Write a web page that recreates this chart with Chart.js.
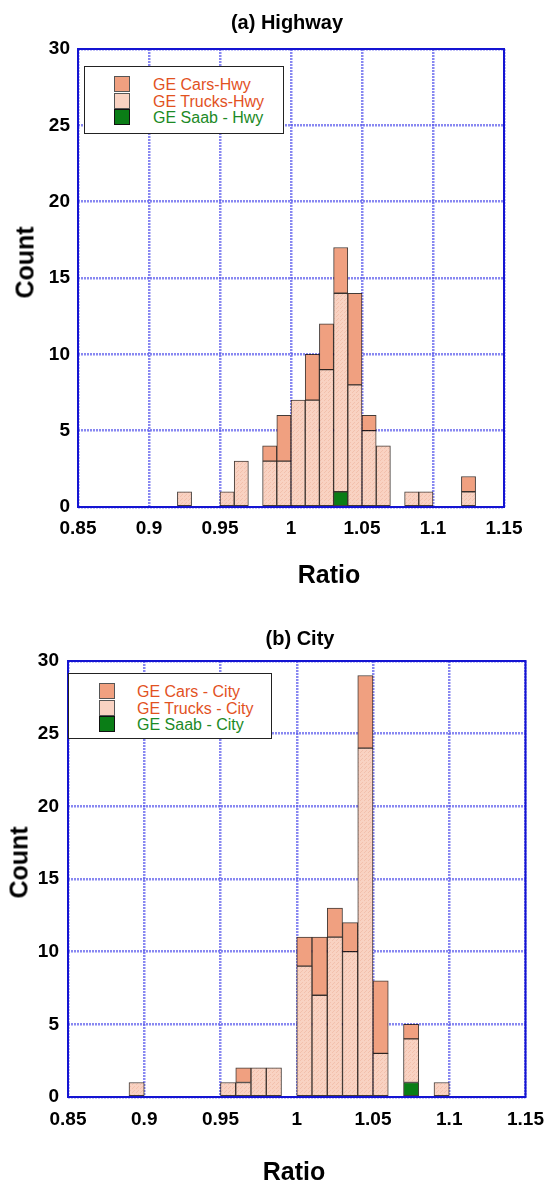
<!DOCTYPE html>
<html>
<head>
<meta charset="utf-8">
<script src="https://cdn.jsdelivr.net/npm/chart.js@4/dist/chart.umd.min.js"></script>
<style>
  html, body { margin: 0; padding: 0; background: #fff; }
  #page { position: relative; width: 555px; height: 1182px; overflow: hidden; font-family: "Liberation Sans", Arial, sans-serif; }
  canvas { position: absolute; left: 0; }
  .txt { position: absolute; white-space: nowrap; font-weight: bold; color: #000; text-align: center; }
  .legend { position: absolute; border: 1.5px solid #222; background: #fff; box-sizing: border-box; }
  .sw { position: absolute; width: 16px; height: 16px; box-sizing: border-box; border: 1px solid #555; }
  .lab { position: absolute; font-size: 16px; line-height: 16px; white-space: nowrap; }
</style>
</head>
<body>
<div id="page">
  <canvas id="hwy" width="555" height="600" style="top:0"></canvas>
  <canvas id="city" width="555" height="582" style="top:600px"></canvas>
</div>
<script>
// Histogram bins (left edge of each 0.01-wide ratio bin) and counts per group
const hwyBins    = [0.92, 0.95, 0.96, 0.98, 0.99, 1.00, 1.01, 1.02, 1.03, 1.04, 1.05, 1.06, 1.08, 1.09, 1.12];
const hwyTrucks  = [1,    1,    3,    3,    3,    7,    7,    9,    13,   8,    5,    4,    1,    1,    1];
const hwyCars    = [0,    0,    0,    1,    3,    0,    3,    3,    3,    6,    1,    0,    0,    0,    1];
const hwySaab    = [0,    0,    0,    0,    0,    0,    0,    0,    1,    0,    0,    0,    0,    0,    0];

const cityBins   = [0.89, 0.95, 0.96, 0.97, 0.98, 1.00, 1.01, 1.02, 1.03, 1.04, 1.05, 1.07, 1.09];
const cityTrucks = [1,    1,    1,    2,    2,    9,    7,    11,   10,   24,   3,    3,    1];
const cityCars   = [0,    0,    1,    0,    0,    2,    4,    2,    2,    5,    5,    1,    0];
const citySaab   = [0,    0,    0,    0,    0,    0,    0,    0,    0,    0,    0,    1,    0];

const binWidth = 0.01;
const xTickValues = [0.85, 0.9, 0.95, 1.0, 1.05, 1.1, 1.15];
const xTickLabels = ['0.85', '0.9', '0.95', '1', '1.05', '1.1', '1.15'];
const yTickStep = 5;

const hwyLegend  = ['GE Cars-Hwy', 'GE Trucks-Hwy', 'GE Saab - Hwy'];
const cityLegend = ['GE Cars - City', 'GE Trucks - City', 'GE Saab - City'];

const CARS = '#f0a080';
const TRUCKS = '#f9d2c2';
const SAAB = '#0a7d16';
const TEXT_RED = '#e2521f';
const TEXT_GREEN = '#1c8a26';
const GRID = 'rgba(85,85,235,0.7)';
const FRAME = '#1414d2';
const TICK_FONT = { family: '"Liberation Sans", Arial, sans-serif', size: 19, weight: 'bold' };

// light stippled fill for the trucks series
function stipple() {
  const c = document.createElement('canvas');
  c.width = 4; c.height = 4;
  const g = c.getContext('2d');
  g.fillStyle = TRUCKS; g.fillRect(0, 0, 4, 4);
  g.fillStyle = '#f2c0ac';
  g.fillRect(0, 0, 1, 1); g.fillRect(2, 2, 1, 1); g.fillRect(1, 3, 1, 1);
  return g.createPattern(c, 'repeat');
}
const truckFill = stipple();

function points(bins, counts) {
  return bins.map((b, i) => ({ x: b + binWidth / 2, y: counts[i] === 0 ? null : counts[i] }));
}

const framePlugin = {
  id: 'frame',
  afterDatasetsDraw(chart) {
    const a = chart.chartArea, ctx = chart.ctx;
    ctx.save();
    ctx.strokeStyle = FRAME;
    ctx.lineWidth = 2;
    ctx.strokeRect(a.left, a.top, a.right - a.left, a.bottom - a.top);
    ctx.restore();
  }
};

function makeChart(id, bins, saab, trucks, cars, geo) {
  const barStyle = { borderColor: 'rgba(20,10,5,0.8)', borderWidth: 1, borderSkipped: false,
                     barPercentage: 1, categoryPercentage: 1 };
  return new Chart(document.getElementById(id), {
    type: 'bar',
    data: {
      datasets: [
        Object.assign({ label: 'Saab', data: points(bins, saab), backgroundColor: SAAB }, barStyle),
        Object.assign({ label: 'Trucks', data: points(bins, trucks), backgroundColor: truckFill }, barStyle),
        Object.assign({ label: 'Cars', data: points(bins, cars), backgroundColor: CARS }, barStyle)
      ]
    },
    options: {
      responsive: false,
      animation: false,
      events: [],
      layout: { padding: { left: 0, right: geo.padRight, top: geo.padTop, bottom: 0 } },
      plugins: { legend: { display: false }, title: { display: false }, tooltip: { enabled: false } },
      scales: {
        x: {
          type: 'linear', stacked: true, offset: false,
          min: xTickValues[0], max: xTickValues[xTickValues.length - 1],
          afterBuildTicks: s => { s.ticks = xTickValues.map(v => ({ value: v })); },
          afterFit: s => { s.height = geo.xHeight; },
          grid: { offset: false, color: GRID, lineWidth: 2.5, drawTicks: false },
          border: { display: false, dash: [2, 1] },
          ticks: { autoSkip: false, maxRotation: 0, padding: geo.xPad, color: '#000',
                   font: TICK_FONT, callback: (v, i) => xTickLabels[i] }
        },
        y: {
          stacked: true, min: 0, max: 30,
          afterFit: s => { s.width = geo.yWidth; },
          grid: { color: GRID, lineWidth: 2.5, drawTicks: false },
          border: { display: false, dash: [2, 1] },
          ticks: { stepSize: yTickStep, padding: geo.yPad, color: '#000', font: TICK_FONT }
        }
      }
    },
    plugins: [framePlugin]
  });
}

makeChart('hwy', hwyBins, hwySaab, hwyTrucks, hwyCars,
  { padRight: 51, padTop: 49, xHeight: 93, yWidth: 78, xPad: 10, yPad: 8 });
makeChart('city', cityBins, citySaab, cityTrucks, cityCars,
  { padRight: 23, padTop: 61, xHeight: 85, yWidth: 68, xPad: 11, yPad: 9 });

// text labels and legends
const page = document.getElementById('page');
function addText(str, cx, top, size, rotate) {
  const d = document.createElement('div');
  d.className = 'txt';
  d.textContent = str;
  d.style.fontSize = size + 'px';
  d.style.lineHeight = size + 'px';
  d.style.width = '200px';
  d.style.left = (cx - 100) + 'px';
  d.style.top = top + 'px';
  if (rotate) d.style.transform = 'rotate(-90deg)';
  page.appendChild(d);
}
addText('(a) Highway', 287, 12, 20);
addText('Ratio', 329, 562, 25);
addText('Count', 25, 262 - 12.5, 25, true);
addText('(b) City', 300, 628, 20);
addText('Ratio', 294, 1159, 25);
addText('Count', 19, 862 - 12.5, 25, true);

function addLegend(labels, box, swX, txtX, rowTop) {
  const lg = document.createElement('div');
  lg.className = 'legend';
  lg.style.left = box[0] + 'px'; lg.style.top = box[1] + 'px';
  lg.style.width = box[2] + 'px'; lg.style.height = box[3] + 'px';
  page.appendChild(lg);
  const fills = [CARS, TRUCKS, SAAB];
  const colors = [TEXT_RED, TEXT_RED, TEXT_GREEN];
  labels.forEach((t, i) => {
    const y = rowTop + i * 16.7;
    const sw = document.createElement('div');
    sw.className = 'sw';
    sw.style.left = swX + 'px'; sw.style.top = y + 'px';
    sw.style.background = fills[i];
    if (i === 2) sw.style.borderColor = '#111';
    page.appendChild(sw);
    const lb = document.createElement('div');
    lb.className = 'lab';
    lb.textContent = t;
    lb.style.color = colors[i];
    lb.style.left = txtX + 'px'; lb.style.top = (y + 1) + 'px';
    page.appendChild(lb);
  });
}
addLegend(hwyLegend, [84, 66, 200, 68], 114, 153, 76);
addLegend(cityLegend, [68, 673, 204, 66], 99, 137, 683);
</script>
</body>
</html>
